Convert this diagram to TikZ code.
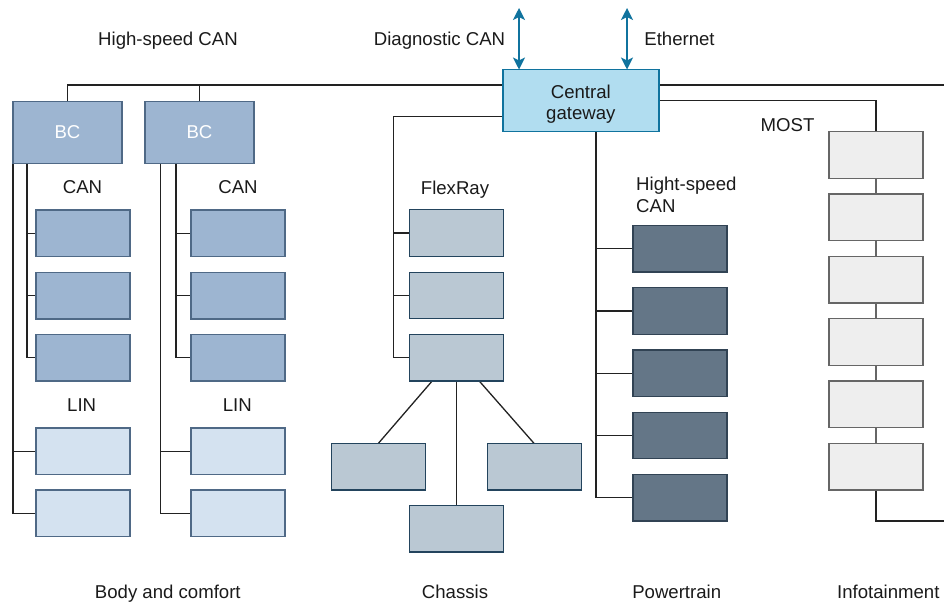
\documentclass[tikz,border=0pt]{standalone}
\usepackage{fontspec}
\setmainfont{Liberation Sans}
\usetikzlibrary{arrows.meta,backgrounds}
\definecolor{bcfill}{HTML}{9DB5D1}
\definecolor{bcline}{HTML}{4F6986}
\definecolor{linfill}{HTML}{D4E2F0}
\definecolor{chfill}{HTML}{BAC8D3}
\definecolor{chline}{HTML}{23445D}
\definecolor{ptfill}{HTML}{647687}
\definecolor{ptline}{HTML}{314354}
\definecolor{inffill}{HTML}{EEEEEE}
\definecolor{infline}{HTML}{666666}
\definecolor{gwfill}{HTML}{B1DDF0}
\definecolor{gwline}{HTML}{10739E}
\definecolor{wire}{HTML}{222222}
\definecolor{ink}{HTML}{1A1A1A}
\tikzset{
  ecu/.style={draw, line width=1.4pt, minimum width=94pt, minimum height=46.5pt, inner sep=0pt, outer sep=0pt},
  canbox/.style={ecu, fill=bcfill, draw=bcline},
  linbox/.style={ecu, fill=linfill, draw=bcline},
  chbox/.style={ecu, fill=chfill, draw=chline},
  ptbox/.style={ecu, fill=ptfill, draw=ptline},
  infbox/.style={ecu, fill=inffill, draw=infline},
  bcbox/.style={draw=bcline, fill=bcfill, line width=1.4pt, minimum width=109pt, minimum height=62pt, inner sep=0pt, outer sep=0pt, text=white},
  gwbox/.style={draw=gwline, fill=gwfill, line width=1.4pt, minimum width=156pt, minimum height=62pt, inner sep=0pt, outer sep=0pt, align=center, text=ink},
  label/.style={text=ink, inner sep=0pt, anchor=base, font=\fontsize{18.6pt}{21.5pt}\selectfont},
  wire/.style={draw=wire, line width=1.3pt},
  greywire/.style={draw=infline, line width=1.8pt},
  link/.style={draw=gwline, line width=1.6pt, {Stealth[length=12pt,width=12pt,inset=3pt]}-{Stealth[length=12pt,width=12pt,inset=3pt]}}
}
\begin{document}
\begin{tikzpicture}[x=1pt,y=-1pt, font=\fontsize{18.6pt}{21.5pt}\selectfont]
\useasboundingbox (0,0) rectangle (944,603);

% ---- fixed tap points of the bus lines ----
\coordinate (busend) at (944,85);
\coordinate (infend) at (944,521);
\coordinate (bc1out) at (13,163);
\coordinate (bc1in) at (27,163);
\coordinate (bc2out) at (160.5,163);
\coordinate (bc2in) at (176,163);
\coordinate (frtop) at (393.3,116.7);
\coordinate (frbus) at (393.3,0);
\coordinate (ptbus) at (596,0);
\coordinate (diagtop) at (519,8);
\coordinate (ethtop) at (627,8);

% ---- gateway ----
\node[gwbox] (gw) at (580.8,100.5) {\rule{0pt}{20.5pt}Central\\gateway};

% ---- body and comfort ----
\node[bcbox] (bc1) at (67.5,132.2) {BC};
\node[bcbox] (bc2) at (199.5,132.2) {BC};
\node[canbox] (can11) at (82.8,233.3) {};
\node[canbox] (can12) at (82.8,295.7) {};
\node[canbox] (can13) at (82.8,357.6) {};
\node[linbox] (lin11) at (82.8,451.3) {};
\node[linbox] (lin12) at (82.8,513.3) {};
\node[canbox] (can21) at (238,233.3) {};
\node[canbox] (can22) at (238,295.7) {};
\node[canbox] (can23) at (238,357.6) {};
\node[linbox] (lin21) at (238,451.3) {};
\node[linbox] (lin22) at (238,513.3) {};

% ---- chassis ----
\node[chbox] (fr1) at (456.2,233) {};
\node[chbox] (fr2) at (456.2,295.5) {};
\node[chbox] (fr3) at (456.2,357.7) {};
\node[chbox] (chl) at (378.2,466.8) {};
\node[chbox] (chr) at (534.2,466.8) {};
\node[chbox] (chb) at (456.2,528.7) {};

% ---- powertrain ----
\node[ptbox] (pt1) at (680,248.7) {};
\node[ptbox] (pt2) at (680,311) {};
\node[ptbox] (pt3) at (680,373.3) {};
\node[ptbox] (pt4) at (680,435.5) {};
\node[ptbox] (pt5) at (680,497.8) {};

% ---- infotainment ----
\node[infbox] (inf1) at (876,155) {};
\node[infbox] (inf2) at (876,217.3) {};
\node[infbox] (inf3) at (876,279.7) {};
\node[infbox] (inf4) at (876,342) {};
\node[infbox] (inf5) at (876,404.3) {};
\node[infbox] (inf6) at (876,466.7) {};

% ---- wiring, kept behind the boxes ----
\begin{scope}[on background layer]
\path[wire] (bc1.north) |- (busend);
\path[wire] (bc2.north) -- (bc2.north |- busend);

\path[wire] (bc1out) |- (lin12.west);
\path[wire] (bc1out |- lin11.west) -- (lin11.west);
\path[wire] (bc1in) |- (can13.west);
\path[wire] (bc1in |- can11.west) -- (can11.west);
\path[wire] (bc1in |- can12.west) -- (can12.west);

\path[wire] (bc2out) |- (lin22.west);
\path[wire] (bc2out |- lin21.west) -- (lin21.west);
\path[wire] (bc2in) |- (can23.west);
\path[wire] (bc2in |- can21.west) -- (can21.west);
\path[wire] (bc2in |- can22.west) -- (can22.west);

\path[wire] (gw.center |- frtop) -- (frtop) |- (fr3.west);
\path[wire] (frbus |- fr1.west) -- (fr1.west);
\path[wire] (frbus |- fr2.west) -- (fr2.west);
\path[wire] ([xshift=-24pt]fr3.south) -- (chl.north);
\path[wire] (fr3.south) -- (chb.north);
\path[wire] ([xshift=23pt]fr3.south) -- (chr.north);

\path[wire] (ptbus |- gw.center) |- (pt5.west);
\path[wire] (ptbus |- pt1.west) -- (pt1.west);
\path[wire] (ptbus |- pt2.west) -- (pt2.west);
\path[wire] (ptbus |- pt3.west) -- (pt3.west);
\path[wire] (ptbus |- pt4.west) -- (pt4.west);

\path[wire] (gw.east) -| (inf1.north);
\path[greywire] (inf1.south) -- (inf2.north);
\path[greywire] (inf2.south) -- (inf3.north);
\path[greywire] (inf3.south) -- (inf4.north);
\path[greywire] (inf4.south) -- (inf5.north);
\path[greywire] (inf5.south) -- (inf6.north);
\path[wire] (inf6.south) |- (infend);
\end{scope}

% ---- external links of the gateway ----
\path[link] (diagtop) -- (diagtop |- gw.north);
\path[link] (ethtop) -- (ethtop |- gw.north);

% ---- labels (placed on their baselines) ----
\node[label] (lhs) at (168,45.7) {High-speed CAN};
\node[label] (ldiag) at (439.5,45.7) {Diagnostic CAN};
\node[label] (leth) at (679.5,45.7) {Ethernet};
\node[label] (lmost) at (787.5,131.7) {MOST};
\node[label] (lcan1) at (82.5,193.7) {CAN};
\node[label] (lcan2) at (238,193.7) {CAN};
\node[label] (llin1) at (81.7,411.7) {LIN};
\node[label] (llin2) at (237.3,411.7) {LIN};
\node[label] (lfr) at (455,194) {FlexRay};
\node[label, align=left, anchor=west] (lpt) at (636,195) {Hight-speed\\CAN};
\node[label] (lbody) at (167.8,598.4) {Body and comfort};
\node[label] (lchassis) at (455,598.4) {Chassis};
\node[label] (lpower) at (676.7,598.4) {Powertrain};
\node[label] (linfo) at (888.3,598.4) {Infotainment};
\end{tikzpicture}
\end{document}
